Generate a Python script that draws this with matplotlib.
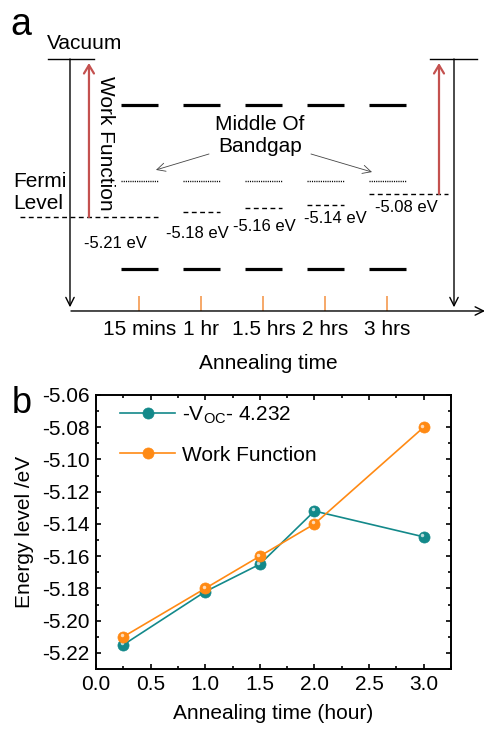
import matplotlib
matplotlib.use('Agg')
import matplotlib.pyplot as plt
import matplotlib.transforms as mtransforms
from matplotlib.ticker import MultipleLocator, FormatStrFormatter

plt.rcParams['font.family'] = ['Liberation Sans', 'DejaVu Sans']
plt.rcParams['font.size'] = 15
plt.rcParams['axes.unicode_minus'] = False
plt.rcParams['mathtext.fontset'] = 'custom'
plt.rcParams['mathtext.rm'] = 'Liberation Sans'
plt.rcParams['mathtext.it'] = 'Liberation Sans:italic'

# data
time_labels = ['15 mins', '1 hr', '1.5 hrs', '2 hrs', '3 hrs']
hours = [0.25, 1.0, 1.5, 2.0, 3.0]
work_function = [-5.21, -5.18, -5.16, -5.14, -5.08]
voc_level = [-5.215, -5.182, -5.165, -5.132, -5.148]

# schematic levels for panel a (eV, drawing only)
vacuum_e = -4.317
cb_e = -4.577
mid_e = -5.007
vb_e = -5.504
base_e = -5.741

teal = '#13898a'
orange = '#ff8a14'
red = '#c4514f'

fig = plt.figure(figsize=(4.85, 7.29), dpi=100)

# ---------------- panel a ----------------
ax = fig.add_axes([0, 1 - 372 / 729, 1, 372 / 729])
ax.set_xlim(-2.25, 5.573)
ax.set_ylim(-6.0857, -3.984)
ax.axis('off')

cols = list(range(len(time_labels)))
hw = 0.3
ax.hlines([cb_e] * len(cols), [c - hw for c in cols], [c + hw for c in cols], color='k', lw=2.3)
ax.hlines([vb_e] * len(cols), [c - hw for c in cols], [c + hw for c in cols], color='k', lw=2.3)
ax.hlines([mid_e] * len(cols), [c - hw for c in cols], [c + hw for c in cols], color='k', lw=1.0,
          linestyles=(0, (0.8, 0.8)))

# Fermi levels, first and last stretched towards the arrows
left_ends = [c - hw for c in cols]
right_ends = [c + hw for c in cols]
left_ends[0] = -1.93
right_ends[-1] = 4.98
ax.hlines(work_function, left_ends, right_ends, color='k', lw=1.0, linestyles=(0, (3.5, 2.5)))

label_dx = [-0.395, -0.073, 0.016, 0.153, 0.298]
label_dy = [0.147, 0.124, 0.102, 0.079, 0.079]
for c, wf, dx, dy in zip(cols, work_function, label_dx, label_dy):
    ax.text(c + dx, wf - dy, '%.2f eV' % wf, ha='center', va='center', fontsize=12)

# frame: vertical arrows and baseline
for xv, x0, x1 in [(-1.121, -1.476, -0.734), (5.073, 4.685, 5.444)]:
    ax.plot([x0, x1], [vacuum_e, vacuum_e], color='k', lw=1.0)
    ax.annotate('', xy=(xv, -5.72), xytext=(xv, vacuum_e),
                arrowprops=dict(arrowstyle='->', lw=1.0, color='k', shrinkA=0, shrinkB=0))
ax.annotate('', xy=(5.573, base_e), xytext=(-1.105, base_e),
            arrowprops=dict(arrowstyle='->', lw=1.0, color='k', shrinkA=0, shrinkB=0))

# work function arrows
for xr, wf in [(-0.815, work_function[0]), (4.831, work_function[-1])]:
    ax.annotate('', xy=(xr, -4.34), xytext=(xr, wf),
                arrowprops=dict(arrowstyle='->,head_length=0.5,head_width=0.3', lw=1.6,
                                color=red, shrinkA=0, shrinkB=0, mutation_scale=12))

ax.vlines(cols, base_e, -5.656, color='#f59a4f', lw=1.2)
for c, lab in zip(cols, time_labels):
    ax.text(c, -5.848, lab, ha='center', va='center')
ax.text(2.08, -6.04, 'Annealing time', ha='center', va='center')

ax.text(-0.879, -4.227, 'Vacuum', ha='center', va='center')
ax.text(-0.556, -4.792, 'Work Function', ha='center', va='center', rotation=270)
ax.text(-2.04, -5.072, 'Fermi\nLevel', ha='left', va='center', multialignment='left')
ax.text(1.944, -4.752, 'Middle Of\nBandgap', ha='center', va='center', multialignment='center')
ax.annotate('', xy=(0.266, -4.944), xytext=(1.121, -4.854),
            arrowprops=dict(arrowstyle='->', lw=0.6, color='#444444', shrinkA=0, shrinkB=0))
ax.annotate('', xy=(3.75, -4.956), xytext=(2.766, -4.854),
            arrowprops=dict(arrowstyle='->', lw=0.6, color='#444444', shrinkA=0, shrinkB=0))

fig.text(10 / 485, 1 - 35 / 729, 'a', fontsize=27, va='baseline')

# ---------------- panel b ----------------
axb = fig.add_axes([96 / 485, 1 - 669 / 729, 355 / 485, 274 / 729])
hl = mtransforms.offset_copy(axb.transData, fig=fig, x=-1.2, y=1.2, units='points')

for vals, col, lab in [(voc_level, teal, '-V$_{\\mathrm{OC}}$- 4.232'),
                       (work_function, orange, 'Work Function')]:
    axb.plot(hours, vals, '-o', color=col, lw=1.2, ms=8, mec=col, mew=0.5, label=lab)
    axb.plot(hours, vals, 'o', color='white', ms=2.5, mew=0, alpha=0.7, transform=hl)

axb.set_xlim(0, 3.25)
axb.set_ylim(-5.23, -5.06)
axb.xaxis.set_major_locator(MultipleLocator(0.5))
axb.xaxis.set_minor_locator(MultipleLocator(0.25))
axb.yaxis.set_major_locator(MultipleLocator(0.02))
axb.yaxis.set_minor_locator(MultipleLocator(0.01))
axb.xaxis.set_major_formatter(FormatStrFormatter('%.1f'))
axb.yaxis.set_major_formatter(FormatStrFormatter('%.2f'))
axb.tick_params(which='both', direction='in', top=True, right=True, width=1.2)
axb.tick_params(which='major', length=3.5, pad=4.5)
axb.tick_params(which='minor', length=2)
for s in axb.spines.values():
    s.set_linewidth(1.4)
axb.set_xlabel('Annealing time (hour)', labelpad=7)
axb.set_ylabel('Energy level /eV', labelpad=6)

axb.legend(loc='upper left', bbox_to_anchor=(0.0676, 0.965),
           frameon=False, borderaxespad=0, borderpad=0, handlelength=2.65,
           handletextpad=0.35, labelspacing=0.95)

fig.text(12 / 485, 1 - 413 / 729, 'b', fontsize=26, va='baseline')

fig.savefig('out.png', dpi=100)
